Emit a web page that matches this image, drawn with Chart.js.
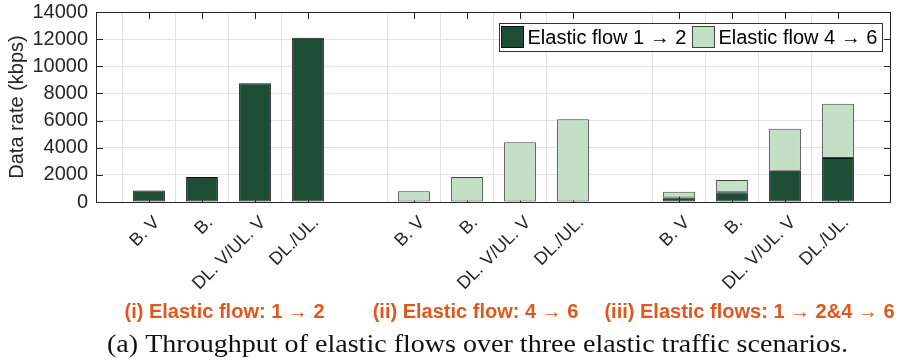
<!DOCTYPE html>
<html><head><meta charset="utf-8">
<script src="https://cdn.jsdelivr.net/npm/chart.js@4.4.1/dist/chart.umd.min.js"></script>
<style>html,body{margin:0;padding:0;background:#fff;}#wrap{width:900px;height:363px;position:relative;}</style>
</head><body><div id="wrap"><canvas id="c" width="900" height="363"></canvas></div>
<script>
// ---- data ----
const scenarioLabels = ['B. V', 'B.', 'DL. V/UL. V', 'DL./UL.'];
const groupTitles = ['(i) Elastic flow: 1 \u2192 2', '(ii) Elastic flow: 4 \u2192 6', '(iii) Elastic flows: 1 \u2192 2&4 \u2192 6'];
const seriesNames = ['Elastic flow 1 \u2192 2', 'Elastic flow 4 \u2192 6'];
const flow12Values = [850, 1850, 8750, 12100,  null, null, null, null,  340, 710, 2310, 3240];
const flow46Values = [null, null, null, null,  800, 1850, 4400, 6100,  420, 910, 3090, 4000];
const yTickValues = [0, 2000, 4000, 6000, 8000, 10000, 12000, 14000];
const captionText = '(a) Throughput of elastic flows over three elastic traffic scenarios.';

// ---- build slots: spacer, group, spacer, group, spacer, group, spacer ----
const labels = [''];
const d12 = [null], d46 = [null];
groupTitles.forEach((g, gi) => {
  scenarioLabels.forEach((s, si) => {
    labels.push(s);
    d12.push(flow12Values[gi * 4 + si]);
    d46.push(flow46Values[gi * 4 + si]);
  });
  labels.push(''); d12.push(null); d46.push(null);
});

const SANS = "'Liberation Sans', Arial, Helvetica, sans-serif";
const SERIF = "'Liberation Serif', 'DejaVu Serif', serif";
const AX = '#262626';
const GRID = '#e2e2e2';
const DARK = '#1d4d36';
const LIGHT = '#c3dfc6';

const framePlugin = {
  id: 'frame',
  beforeDatasetsDraw(chart) {
    const {ctx, chartArea: a, scales: {x, y}} = chart;
    ctx.save();
    ctx.strokeStyle = AX; ctx.lineWidth = 1;
    ctx.beginPath();
    const L = 7;
    labels.forEach((lb, i) => {
      if (!lb) return;
      const px = Math.round(x.getPixelForValue(i)) + 0.5;
      ctx.moveTo(px, a.top); ctx.lineTo(px, a.top + L);
      ctx.moveTo(px, a.bottom); ctx.lineTo(px, a.bottom - L);
    });
    yTickValues.forEach(v => {
      const py = Math.round(y.getPixelForValue(v)) + 0.5;
      ctx.moveTo(a.left, py); ctx.lineTo(a.left + L, py);
      ctx.moveTo(a.right, py); ctx.lineTo(a.right - L, py);
    });
    ctx.stroke();
    ctx.restore();
  },
  afterDraw(chart) {
    const {ctx, chartArea: a, scales: {x}} = chart;
    ctx.save();
    // frame
    ctx.strokeStyle = AX; ctx.lineWidth = 1;
    ctx.strokeRect(Math.round(a.left) + 0.5, Math.round(a.top) + 0.5,
                   Math.round(a.right - a.left) - 1, Math.round(a.bottom - a.top));
    // legend
    ctx.font = '20px ' + SANS;
    const sw = 22, sh = 21, gapS = 4, padL = 2, padR = 5, itemGap = 6;
    const w0 = ctx.measureText(seriesNames[0]).width, w1 = ctx.measureText(seriesNames[1]).width;
    const boxW = Math.round(padL + sw + gapS + w0 + itemGap + sw + gapS + w1 + padR);
    const boxH = 28;
    const bx = Math.round(a.right - 9 - boxW) + 0.5, by = Math.round(a.top + 11) + 0.5;
    ctx.fillStyle = '#fff'; ctx.fillRect(bx, by, boxW, boxH);
    ctx.strokeStyle = '#333'; ctx.strokeRect(bx, by, boxW, boxH);
    let cx = bx + padL;
    const items = [[DARK, '#111', seriesNames[0], w0], [LIGHT, '#444', seriesNames[1], w1]];
    items.forEach(([fc, bc, t, w]) => {
      ctx.fillStyle = fc; ctx.fillRect(cx, by + 3, sw, sh);
      ctx.strokeStyle = bc; ctx.strokeRect(cx, by + 3, sw, sh);
      ctx.fillStyle = '#000'; ctx.textBaseline = 'middle'; ctx.textAlign = 'left';
      ctx.fillText(t, cx + sw + gapS, by + boxH / 2 + 1);
      cx += sw + gapS + w + itemGap;
    });
    // group titles
    ctx.font = 'bold 20px ' + SANS;
    ctx.fillStyle = '#e0571f'; ctx.textAlign = 'center'; ctx.textBaseline = 'middle';
    const shifts = [-4, -18, -9];
    groupTitles.forEach((g, gi) => {
      const c = (x.getPixelForValue(gi * 5 + 1) + x.getPixelForValue(gi * 5 + 4)) / 2 + shifts[gi];
      ctx.fillText(g, c, 312);
    });
    // caption
    ctx.font = '25px ' + SERIF;
    ctx.fillStyle = '#111'; ctx.textAlign = 'left'; ctx.textBaseline = 'alphabetic';
    const cw = ctx.measureText(captionText).width;
    ctx.translate(107, 352);
    ctx.scale(741 / cw, 1);
    ctx.fillText(captionText, 0, 0);
    ctx.restore();
  }
};

new Chart(document.getElementById('c'), {
  type: 'bar',
  data: {
    labels: labels,
    datasets: [
      {label: seriesNames[0], data: d12, backgroundColor: DARK, borderColor: '#111', borderWidth: 1, borderSkipped: false, stack: 's'},
      {label: seriesNames[1], data: d46, backgroundColor: LIGHT, borderColor: '#444', borderWidth: 1, borderSkipped: false, stack: 's'}
    ]
  },
  options: {
    responsive: false,
    animation: false,
    layout: {padding: {top: 12, right: 9, left: 0, bottom: 0}},
    plugins: {legend: {display: false}, tooltip: {enabled: false}},
    datasets: {bar: {barPercentage: 0.6, categoryPercentage: 1}},
    scales: {
      x: {
        stacked: true, offset: false,
        grid: {color: c => (labels[c.index] ? GRID : 'rgba(0,0,0,0)'), drawTicks: false},
        border: {display: false},
        ticks: {autoSkip: false, minRotation: 45, maxRotation: 45, font: {family: SANS, size: 18}, color: AX, padding: 10, labelOffset: 8},
        afterFit: s => { s.height = 161; s.paddingLeft = 0; s.paddingRight = 0; }
      },
      y: {
        stacked: true, min: 0, max: 14000,
        afterBuildTicks: s => { s.ticks = yTickValues.map(v => ({value: v})); },
        grid: {color: GRID, drawTicks: false},
        border: {display: false},
        ticks: {font: {family: SANS, size: 20}, color: AX, padding: 8, callback: v => String(v)},
        title: {display: true, text: 'Data rate (kbps)', font: {family: SANS, size: 20}, color: AX, padding: {top: 5, bottom: 0}},
        afterFit: s => { s.width = 96; s.paddingTop = 0; s.paddingBottom = 0; }
      }
    }
  },
  plugins: [framePlugin]
});
</script>
</body></html>
